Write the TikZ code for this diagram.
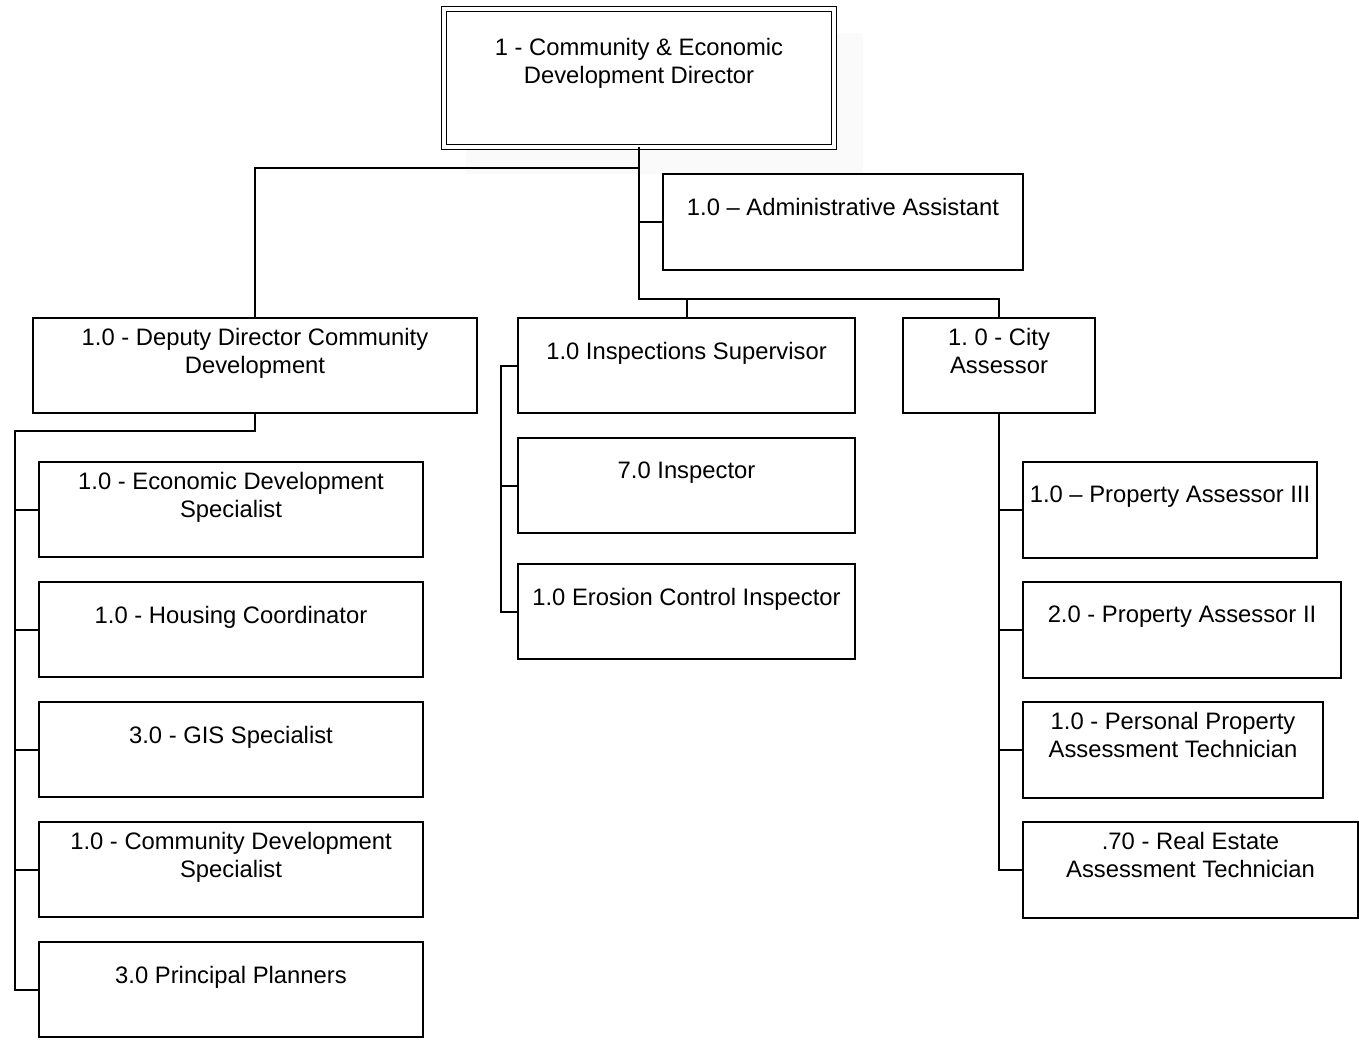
\documentclass[tikz,border=0pt]{standalone}
\usepackage{fontspec}
\setmainfont{Liberation Sans}
\usepackage{tikz}
\usetikzlibrary{positioning,shadows}
\tikzset{
  role/.style={draw, line width=1pt, fill=white, inner sep=0pt, outer sep=0pt, anchor=north west, minimum height=47.5pt},
  boss/.style={draw, double, double distance=1.6pt, line width=0.9pt, fill=white, inner sep=0pt, outer sep=0pt, anchor=north west,
    general shadow={shadow xshift=12.5pt, shadow yshift=-12.5pt, shadow scale=1.02, fill=black!2}},
  title/.style={align=center, inner sep=0pt, font=\fontsize{11.9}{14}\selectfont\frenchspacing},
  link/.style={line width=1pt}
}

\begin{document}
\begin{tikzpicture}[x=0.5pt, y=-0.5pt]
  \useasboundingbox (0,0) rectangle (1359,1039);

  \node[boss, minimum width=195pt, minimum height=69pt] (dir) at (444,9) {};
  \node[role, minimum width=180pt, minimum height=48pt] (adm) at (663,174) {};
  \node[role, minimum width=222pt] (dep) at (33,318) {};
  \node[role, minimum width=168.5pt] (ins) at (518,318) {};
  \node[role, minimum width=96pt] (asr) at (903,318) {};

  \node[role, minimum width=192pt] (esp) at (39,462) {};
  \node[role, minimum width=192pt] (hsg) at (39,582) {};
  \node[role, minimum width=192pt] (gis) at (39,702) {};
  \node[role, minimum width=192pt] (cds) at (39,822) {};
  \node[role, minimum width=192pt] (ppl) at (39,942) {};

  \node[role, minimum width=168.5pt] (isp) at (518,438) {};
  \node[role, minimum width=168.5pt] (ero) at (518,564) {};

  \node[role, minimum width=147pt, minimum height=48pt] (pa3) at (1023,462) {};
  \node[role, minimum width=159pt, minimum height=48pt] (pa2) at (1023,582) {};
  \node[role, minimum width=150pt, minimum height=48pt] (ppt) at (1023,702) {};
  \node[role, minimum width=167.5pt, minimum height=48pt] (ret) at (1023,822) {};

  \node[title] (dir-t) at ([yshift=-27pt]dir.north) {1 - Community \& Economic\\Development Director};
  \node[title] (adm-t) at ([yshift=-16.5pt]adm.north) {1.0 \textendash{} Administrative Assistant};
  \node[title] (dep-t) at ([yshift=-17.5pt]dep.north) {1.0 - Deputy Director Community\\Development};
  \node[title] (ins-t) at ([yshift=-17.5pt]ins.north) {1.0 Inspections Supervisor};
  \node[title] (asr-t) at ([yshift=-16.5pt]asr.north) {1. 0 - City\\Assessor};
  \node[title] (esp-t) at ([yshift=-17.5pt]esp.north) {1.0 - Economic Development\\Specialist};
  \node[title] (hsg-t) at ([yshift=-17.5pt]hsg.north) {1.0 - Housing Coordinator};
  \node[title] (gis-t) at ([yshift=-17.5pt]gis.north) {3.0 - GIS Specialist};
  \node[title] (cds-t) at ([yshift=-17.5pt]cds.north) {1.0 - Community Development\\Specialist};
  \node[title] (ppl-t) at ([yshift=-17.5pt]ppl.north) {3.0 Principal Planners};
  \node[title] (isp-t) at ([yshift=-17.5pt]isp.north) {7.0 Inspector};
  \node[title] (ero-t) at ([yshift=-17.5pt]ero.north) {1.0 Erosion Control Inspector};
  \node[title] (pa3-t) at ([yshift=-17.5pt]pa3.north) {1.0 \textendash{} Property Assessor III};
  \node[title] (pa2-t) at ([yshift=-17.5pt]pa2.north) {2.0 - Property Assessor II};
  \node[title] (ppt-t) at ([yshift=-16.5pt]ppt.north) {1.0 - Personal Property\\Assessment Technician};
  \node[title] (ret-t) at ([yshift=-16.5pt]ret.north) {.70 - Real Estate\\Assessment Technician};

  % director branches
  \coordinate (dtop) at (639,168);
  \coordinate (hub) at (639,299);
  \draw[link] (dir.south) |- (adm.west);
  \draw[link] (dir.south) -- (hub) -| (ins.north);
  \draw[link] (hub) -| (asr.north);
  \draw[link] (dtop) -| (dep.north);

  % deputy director
  \coordinate (dbus) at (15,431);
  \draw[link] (dep.south) |- (dbus) |- (ppl.west);
  \draw[link] (esp.west) -- (esp.west -| dbus);
  \draw[link] (hsg.west) -- (hsg.west -| dbus);
  \draw[link] (gis.west) -- (gis.west -| dbus);
  \draw[link] (cds.west) -- (cds.west -| dbus);

  % inspections
  \coordinate (ibus) at (501,0);
  \draw[link] (ins.west) -- (ins.west -| ibus) |- (ero.west);
  \draw[link] (isp.west) -- (isp.west -| ibus);

  % assessor
  \draw[link] (asr.south) |- (ret.west);
  \draw[link] (pa3.west) -- (asr.south |- pa3.west);
  \draw[link] (pa2.west) -- (asr.south |- pa2.west);
  \draw[link] (ppt.west) -- (asr.south |- ppt.west);
\end{tikzpicture}
\end{document}
